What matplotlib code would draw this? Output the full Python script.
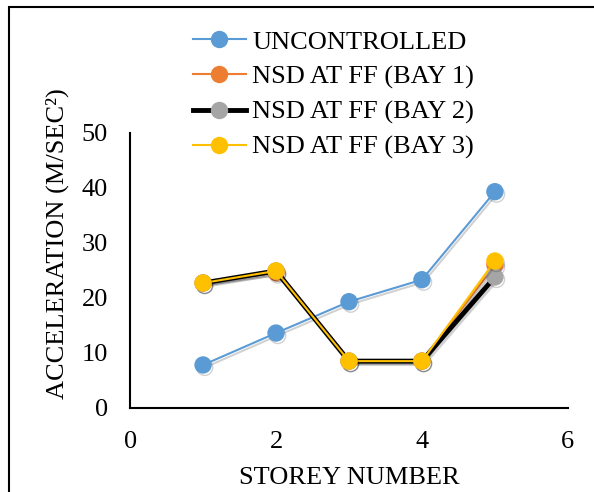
import matplotlib
matplotlib.use("Agg")
import matplotlib.pyplot as plt
import matplotlib.patheffects as pe
from matplotlib.patches import Rectangle

storey = [1, 2, 3, 4, 5]
uncontrolled = [7.8, 13.6, 19.3, 23.3, 39.3]
bay1 = [22.7, 24.6, 8.5, 8.5, 26.0]
bay2 = [22.7, 24.9, 8.5, 8.5, 23.8]
bay3 = [22.7, 24.9, 8.5, 8.5, 26.7]

plt.rcParams["font.family"] = ["Liberation Serif", "DejaVu Serif"]
plt.rcParams["font.size"] = 19

fig = plt.figure(figsize=(5.94, 4.92), dpi=100)
ax = fig.add_axes([0.219, 0.171, 0.737, 0.559])

shadow = [pe.SimpleLineShadow(offset=(1.2, -1.8), shadow_color="black", alpha=0.18),
          pe.Normal()]

ax.plot(storey, uncontrolled, "-o", color="#5B9BD5", lw=1.5, ms=11.5,
        label="UNCONTROLLED", path_effects=shadow, zorder=3)
ax.plot(storey, bay1, "-o", color="#ED7D31", lw=1.5, ms=11.5,
        label="NSD AT FF (BAY 1)", path_effects=shadow, zorder=4)
ax.plot(storey, bay2, "-o", color="black", mfc="#A5A5A5", mec="#A5A5A5",
        lw=3.5, ms=11.5, label="NSD AT FF (BAY 2)", path_effects=shadow, zorder=5)
ax.plot(storey, bay3, "-o", color="#FFC000", lw=1.5, ms=11.5,
        label="NSD AT FF (BAY 3)", path_effects=shadow, zorder=6)

ax.set_xlim(0, 6)
ax.set_ylim(0, 50)
ax.set_xticks([0, 2, 4, 6])
ax.set_yticks([0, 10, 20, 30, 40, 50])
ax.tick_params(axis="y", length=0, pad=16)
ax.tick_params(axis="x", length=0, pad=17)
for s in ["top", "right"]:
    ax.spines[s].set_visible(False)
for s in ["left", "bottom"]:
    ax.spines[s].set_linewidth(1.5)

ax.set_xlabel("STOREY NUMBER", labelpad=10)
ax.set_ylabel("ACCELERATION (M/SEC²)")
ax.yaxis.set_label_coords(-0.14, 0.596)

leg = fig.legend(loc="upper left", bbox_to_anchor=(0.307, 0.96), frameon=False,
                 handlelength=2.0, handletextpad=0.25, labelspacing=0.43,
                 borderaxespad=0)
for line in leg.get_lines():
    line.set_path_effects([])

fig.patches.append(Rectangle((9 / 594, -0.1), 1.2, 1 - 7 / 492 + 0.1,
                             transform=fig.transFigure, fill=False,
                             edgecolor="black", lw=1.5))

fig.savefig("out.png", dpi=100)
